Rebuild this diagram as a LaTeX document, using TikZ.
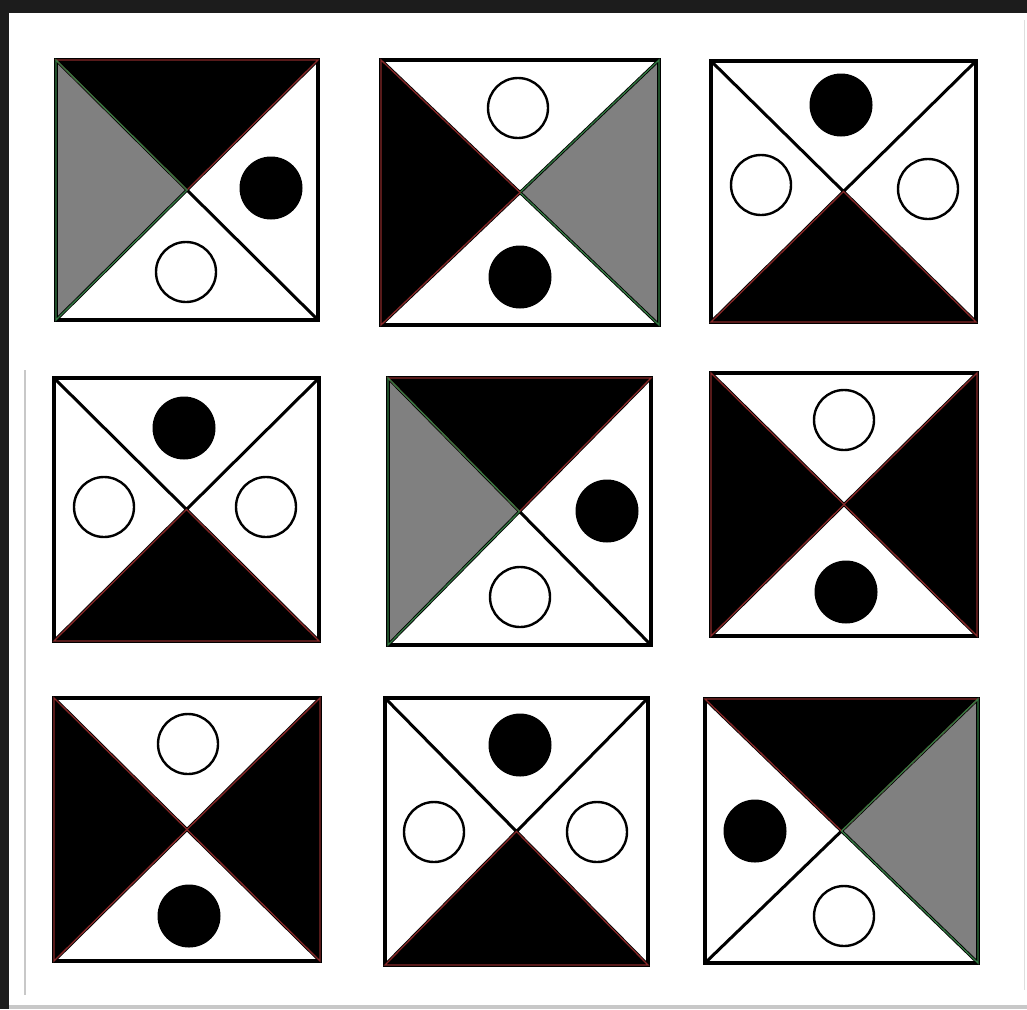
\documentclass[tikz,border=0pt]{standalone}
\usetikzlibrary{calc}
\definecolor{framedark}{RGB}{28,28,28}
\definecolor{maroonedge}{RGB}{135,40,40}
\definecolor{greenedge}{RGB}{50,120,65}
\definecolor{midgray}{RGB}{128,128,128}
\definecolor{faintline}{RGB}{200,200,200}
\tikzset{
  B/.style={fill=black},
  G/.style={fill=midgray},
  W/.style={fill=white},
  Bedge/.style={draw=maroonedge,line width=1.3pt,line join=miter},
  Gedge/.style={draw=greenedge,line width=1.3pt,line join=miter},
  Wedge/.style={draw=none},
  diag/.style={draw=black,line width=3pt},
  tileframe/.style={draw=black,line width=3.2pt,line join=miter},
  blackdot/.style={fill=black},
  ring/.style={draw=black,fill=white,line width=2.4pt},
}
% #1 x1, #2 y1, #3 x2, #4 y2, #5 top, #6 right, #7 bottom, #8 left
\newcommand\tile[8]{%
  \coordinate (tl) at (#1,#2);
  \coordinate (tr) at (#3,#2);
  \coordinate (br) at (#3,#4);
  \coordinate (bl) at (#1,#4);
  \coordinate (c) at ($(tl)!0.5!(br)$);
  \fill[#5] (tl)--(tr)--(c)--cycle;
  \fill[#6] (tr)--(br)--(c)--cycle;
  \fill[#7] (br)--(bl)--(c)--cycle;
  \fill[#8] (bl)--(tl)--(c)--cycle;
  \draw[diag] (tl)--(br) (tr)--(bl);
  \draw[tileframe] (tl) rectangle (br);
  \draw[#5edge] (tl)--(tr)--(c)--cycle;
  \draw[#6edge] (tr)--(br)--(c)--cycle;
  \draw[#7edge] (br)--(bl)--(c)--cycle;
  \draw[#8edge] (bl)--(tl)--(c)--cycle;
}
\newcommand\dotat[2]{\fill[blackdot] (#1,#2) circle[radius=31.5];}
\newcommand\ringat[2]{\draw[ring] (#1,#2) circle[radius=30];}
\begin{document}
\begin{tikzpicture}[x=1pt,y=-1pt]
\useasboundingbox (0,0) rectangle (1027,1009);
\fill[framedark] (0,0) rectangle (1027,1009);
\fill[white] (9,13) rectangle (1027,1005);
\fill[faintline] (9,1005) rectangle (1027,1009);
\draw[faintline,line width=1.5pt] (25,370) -- (25,995);
\draw[faintline!60,line width=1pt] (1024,20) -- (1024,990);
% row 1
\tile{56}{60}{318}{320}{B}{W}{W}{G}
\dotat{271}{188}\ringat{186}{272}
\tile{381}{60}{659}{325}{W}{G}{W}{B}
\ringat{518}{108}\dotat{520}{277}
\tile{711}{61}{976}{322}{W}{W}{B}{W}
\dotat{841}{105}\ringat{761}{185}\ringat{928}{189}
% row 2
\tile{54}{378}{319}{641}{W}{W}{B}{W}
\dotat{184}{428}\ringat{104}{507}\ringat{266}{507}
\tile{388}{378}{651}{645}{B}{W}{W}{G}
\dotat{607}{511}\ringat{520}{597}
\tile{711}{373}{977}{636}{W}{B}{W}{B}
\ringat{844}{420}\dotat{846}{592}
% row 3
\tile{54}{698}{320}{961}{W}{B}{W}{B}
\ringat{188}{744}\dotat{189}{916}
\tile{385}{698}{648}{965}{W}{W}{B}{W}
\dotat{520}{745}\ringat{434}{832}\ringat{597}{832}
\tile{705}{699}{978}{963}{B}{G}{W}{W}
\dotat{755}{831}\ringat{844}{916}
\end{tikzpicture}
\end{document}
